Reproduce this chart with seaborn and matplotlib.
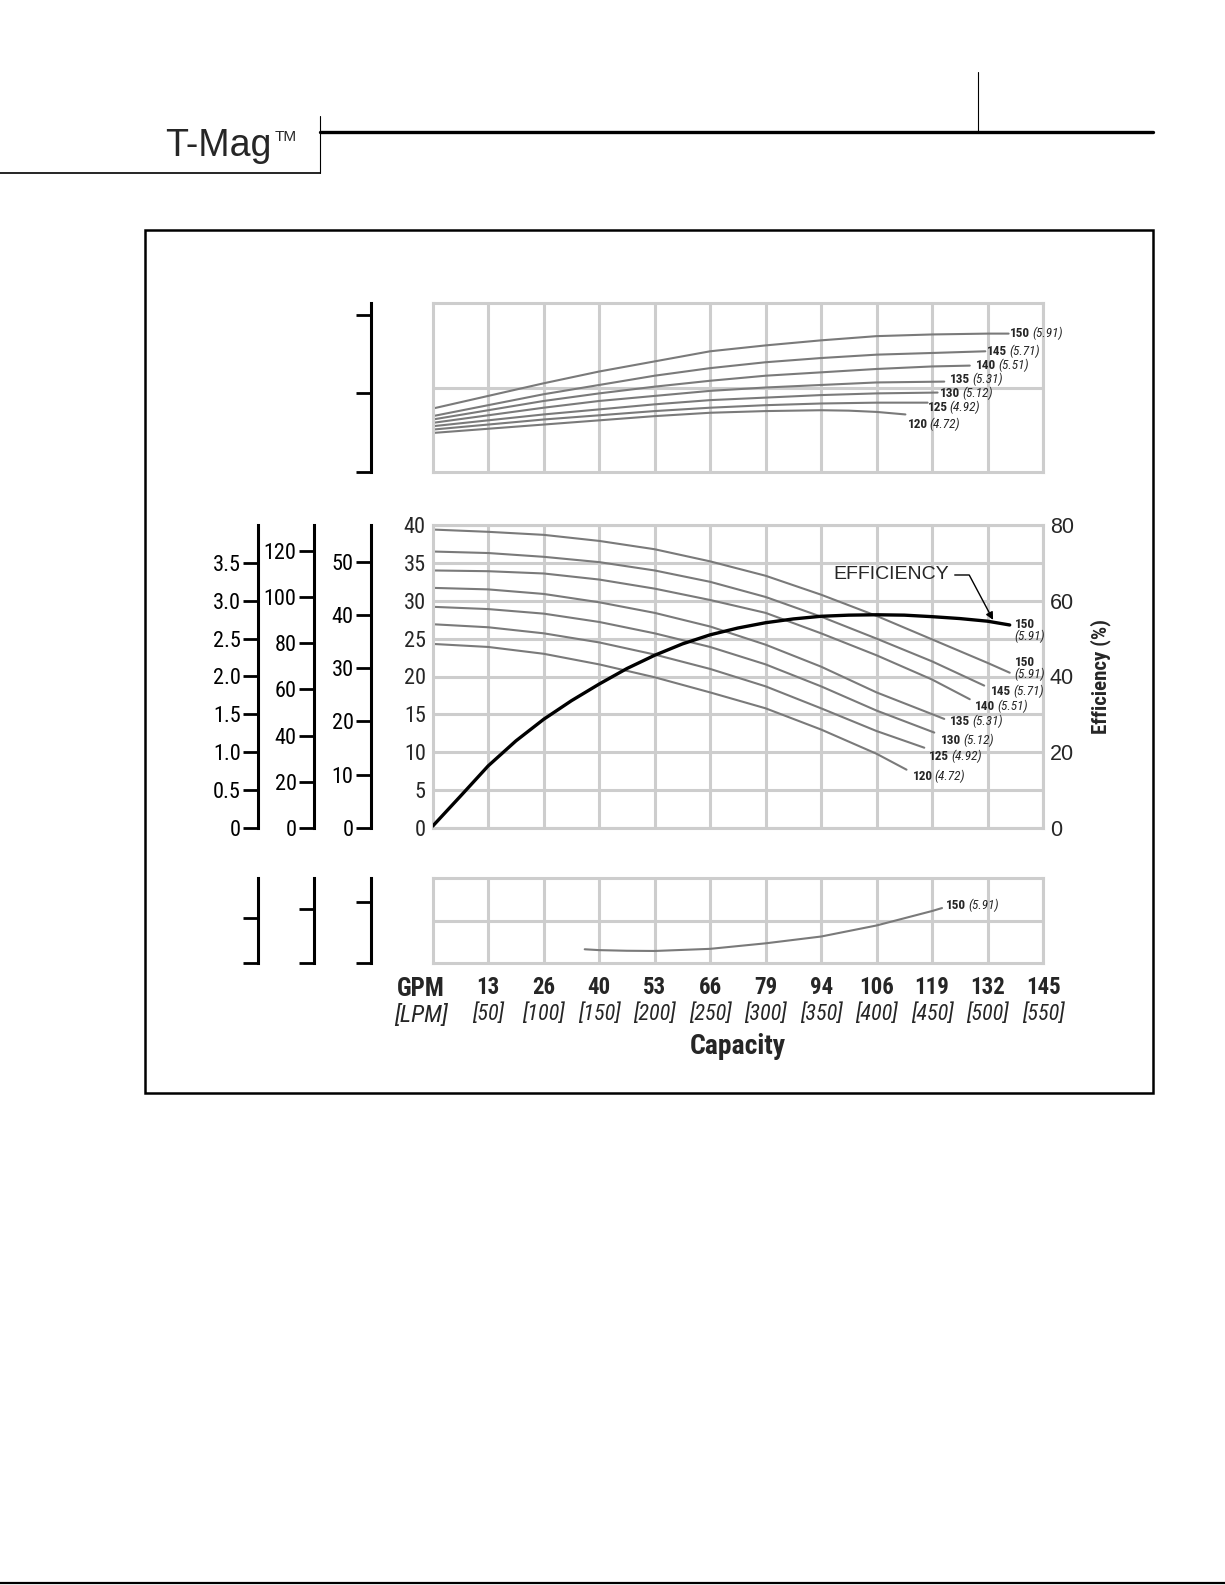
import numpy as np
import pandas as pd
import matplotlib.pyplot as plt
import seaborn as sns
from matplotlib import font_manager
from matplotlib.lines import Line2D
from matplotlib.patches import Rectangle

# capacity axis: grid every 50 LPM, labelled in GPM and [LPM]
lpm_ticks = [50, 100, 150, 200, 250, 300, 350, 400, 450, 500, 550]
gpm_labels = ["13", "26", "40", "53", "66", "79", "94", "106", "119", "132", "145"]
lpm_labels = ["[50]", "[100]", "[150]", "[200]", "[250]", "[300]",
              "[350]", "[400]", "[450]", "[500]", "[550]"]

# impeller sizes (mm) and (inch)
impellers = ["120", "125", "130", "135", "140", "145", "150"]
diameters = ["4.72", "4.92", "5.12", "5.31", "5.51", "5.71", "5.91"]

# head curves, metres (middle panel)
head_lpm_120 = [0, 50, 100, 150, 200, 250, 300, 350, 400, 427]
head_120 = [24.3, 23.9, 23.0, 21.6, 19.9, 17.9, 15.8, 13.0, 9.8, 7.7]
head_lpm_125 = [0, 50, 100, 150, 200, 250, 300, 350, 400, 443]
head_125 = [26.9, 26.5, 25.7, 24.5, 22.9, 21.0, 18.7, 15.8, 12.8, 10.6]
head_lpm_130 = [0, 50, 100, 150, 200, 250, 300, 350, 400, 452]
head_130 = [29.2, 28.9, 28.3, 27.2, 25.7, 23.9, 21.6, 18.7, 15.5, 12.6]
head_lpm_135 = [0, 50, 100, 150, 200, 250, 300, 350, 400, 461]
head_135 = [31.7, 31.5, 30.9, 29.8, 28.4, 26.6, 24.2, 21.3, 17.9, 14.4]
head_lpm_140 = [0, 50, 100, 150, 200, 250, 300, 350, 400, 450, 484]
head_140 = [34.0, 33.9, 33.6, 32.8, 31.6, 30.1, 28.4, 25.7, 22.8, 19.6, 17.0]
head_lpm_145 = [0, 50, 100, 150, 200, 250, 300, 350, 400, 450, 497]
head_145 = [36.5, 36.3, 35.8, 35.1, 34.0, 32.5, 30.5, 27.9, 25.0, 22.0, 18.8]
head_lpm_150 = [0, 50, 100, 150, 200, 250, 300, 350, 400, 450, 500, 520]
head_150 = [39.4, 39.1, 38.7, 37.9, 36.8, 35.2, 33.3, 30.8, 28.0, 24.9, 21.8, 20.5]

# power curves (top panel, grid rows = 1 unit)
pow_lpm_120 = [0, 50, 100, 150, 200, 250, 300, 350, 375, 400, 426]
pow_120 = [0.46, 0.51, 0.56, 0.61, 0.66, 0.70, 0.72, 0.73, 0.725, 0.71, 0.68]
pow_lpm_125 = [0, 50, 100, 150, 200, 250, 300, 350, 400, 446]
pow_125 = [0.50, 0.56, 0.62, 0.67, 0.72, 0.76, 0.79, 0.81, 0.82, 0.82]
pow_lpm_130 = [0, 50, 100, 150, 200, 250, 300, 350, 400, 455]
pow_130 = [0.54, 0.61, 0.68, 0.74, 0.80, 0.85, 0.88, 0.91, 0.93, 0.94]
pow_lpm_135 = [0, 50, 100, 150, 200, 250, 300, 350, 400, 461]
pow_135 = [0.58, 0.67, 0.76, 0.84, 0.90, 0.96, 1.00, 1.03, 1.06, 1.07]
pow_lpm_140 = [0, 50, 100, 150, 200, 250, 300, 350, 400, 450, 484]
pow_140 = [0.62, 0.73, 0.84, 0.93, 1.01, 1.08, 1.14, 1.18, 1.22, 1.25, 1.26]
pow_lpm_145 = [0, 50, 100, 150, 200, 250, 300, 350, 400, 450, 498]
pow_145 = [0.66, 0.79, 0.92, 1.03, 1.14, 1.23, 1.30, 1.35, 1.39, 1.41, 1.43]
pow_lpm_150 = [0, 50, 100, 150, 200, 250, 300, 350, 400, 450, 500, 519]
pow_150 = [0.75, 0.90, 1.05, 1.19, 1.31, 1.43, 1.50, 1.56, 1.61, 1.63, 1.64, 1.64]

# NPSH curve (bottom panel), 150 impeller only
npsh_lpm = [137, 150, 175, 200, 250, 300, 350, 400, 450, 459]
npsh_150 = [0.33, 0.31, 0.295, 0.29, 0.34, 0.47, 0.63, 0.89, 1.23, 1.30]

# efficiency curve (%)
eff_lpm = [0, 25, 50, 75, 100, 125, 150, 175, 200, 225, 250, 275, 300, 325, 350,
           375, 400, 425, 450, 475, 500, 520]
eff_pct = [0.5, 8.4, 16.4, 23.0, 28.7, 33.6, 38.0, 42.1, 45.6, 48.6, 51.0, 52.8,
           54.2, 55.2, 55.9, 56.2, 56.3, 56.2, 55.8, 55.3, 54.6, 53.6]

# head scales
head_ticks = [0, 5, 10, 15, 20, 25, 30, 35, 40]
eff_ticks = [0, 20, 40, 60, 80]
kg_ticks = [0, 0.5, 1.0, 1.5, 2.0, 2.5, 3.0, 3.5]
kg_labels = ["0", "0.5", "1.0", "1.5", "2.0", "2.5", "3.0", "3.5"]
ft_ticks = [0, 20, 40, 60, 80, 100, 120]
psi_ticks = [0, 10, 20, 30, 40, 50]

head_x = [head_lpm_120, head_lpm_125, head_lpm_130, head_lpm_135,
          head_lpm_140, head_lpm_145, head_lpm_150]
head_y = [head_120, head_125, head_130, head_135, head_140, head_145, head_150]
pow_x = [pow_lpm_120, pow_lpm_125, pow_lpm_130, pow_lpm_135,
         pow_lpm_140, pow_lpm_145, pow_lpm_150]
pow_y = [pow_120, pow_125, pow_130, pow_135, pow_140, pow_145, pow_150]


def curve_table(xs, ys):
    rows = []
    for imp, cx, cy in zip(impellers, xs, ys):
        rows += [(imp, a, b) for a, b in zip(cx, cy)]
    return pd.DataFrame(rows, columns=["impeller", "lpm", "value"])


head_df = curve_table(head_x, head_y)
pow_df = curve_table(pow_x, pow_y)

sns.set_style("white")
# the original uses a condensed grotesque; take the narrowest one installed
installed = {f.name for f in font_manager.fontManager.ttflist}
narrow = next((n for n in ["Liberation Sans Narrow", "DejaVu Sans Condensed",
                           "Roboto Condensed", "Liberation Sans"] if n in installed),
              "DejaVu Sans")
plt.rcParams["font.family"] = [narrow, "DejaVu Sans"]
WIDE = ["Liberation Sans", "DejaVu Sans"]
GRID = "#cdcdcd"
CURVE = "#7a7a7a"

W, H = 1225, 1585
fig = plt.figure(figsize=(W / 100, H / 100), dpi=100)


def px_box(x0, y0, x1, y1):
    return [x0 / W, 1 - y1 / H, (x1 - x0) / W, (y1 - y0) / H]


ax_top = fig.add_axes(px_box(432.7, 303.3, 1043, 471.7))
ax_main = fig.add_axes(px_box(432.7, 525, 1043, 828))
ax_bot = fig.add_axes(px_box(432.7, 878.3, 1043, 963.3))


def grid_panel(ax, ymax, yticks):
    ax.set_xlim(0, 550)
    ax.set_ylim(0, ymax)
    ax.set_xticks(lpm_ticks)
    ax.set_yticks(yticks)
    ax.grid(True, color=GRID, lw=2.2)
    ax.set_axisbelow(True)
    for s in ax.spines.values():
        s.set_color(GRID)
        s.set_linewidth(2.2)
    ax.tick_params(length=0)
    ax.set_xlabel("")
    ax.set_ylabel("")


def side_scale(host, offset_px, top, ticks, labels=None):
    tw = host.twinx()
    tw.yaxis.tick_left()
    for side in ("top", "right", "bottom"):
        tw.spines[side].set_visible(False)
    sp = tw.spines["left"]
    sp.set_visible(True)
    sp.set_position(("outward", offset_px * 0.72))
    sp.set_color("black")
    sp.set_linewidth(2.2)
    tw.set_ylim(0, top)
    tw.set_yticks(ticks)
    tw.set_yticklabels(labels if labels is not None else [])
    tw.tick_params(axis="y", direction="out", length=11, width=2.0, pad=1.5,
                   labelsize=16, colors="black")
    tw.grid(False)
    return tw


def tag(ax, x, y, num, dia, dx, dy, stacked=False, size=9.5):
    t = ax.annotate(num, xy=(x, y), xytext=(dx, dy), textcoords="offset points",
                    ha="left", va="center", fontsize=size, fontweight="bold")
    if stacked:
        ax.annotate(f"({dia})", xy=(0, 0), xycoords=t, xytext=(0, 1),
                    textcoords="offset points", ha="left", va="top",
                    fontsize=size, fontstyle="italic")
    else:
        ax.annotate(f"({dia})", xy=(1, 0), xycoords=t, xytext=(1.5, 0),
                    textcoords="offset points", ha="left", va="bottom",
                    fontsize=size, fontstyle="italic")


# ---- top panel: power
sns.lineplot(data=pow_df, x="lpm", y="value", units="impeller", estimator=None,
             sort=False, color=CURVE, lw=1.5, ax=ax_top)
grid_panel(ax_top, 2, [1])
ax_top.set_xticklabels([])
ax_top.set_yticklabels([])
side_scale(ax_top, 61.7, 2.146, [0, 1, 2])
top_offsets = {"120": (1.5, -7.4), "125": (0, -3.6), "130": (2, -0.7), "135": (4, 1.7),
               "140": (4.5, 0), "145": (1.5, 0), "150": (1, 0)}
for imp, dia, cx, cy in zip(impellers, diameters, pow_x, pow_y):
    tag(ax_top, cx[-1], cy[-1], imp, dia, *top_offsets[imp])

# ---- middle panel: head + efficiency
sns.lineplot(data=head_df, x="lpm", y="value", units="impeller", estimator=None,
             sort=False, color=CURVE, lw=1.5, ax=ax_main)
grid_panel(ax_main, 40, head_ticks)
ax_main.set_xticklabels([])
ax_main.tick_params(axis="y", labelsize=16, pad=5)

side_scale(ax_main, 432.7 - 258, 4.0, kg_ticks, kg_labels)
side_scale(ax_main, 432.7 - 314, 131.2, ft_ticks, [str(v) for v in ft_ticks])
side_scale(ax_main, 432.7 - 371, 56.9, psi_ticks, [str(v) for v in psi_ticks])

main_offsets = {"120": (4.3, -4.8), "125": (3.6, -6), "130": (4.8, -5.5),
                "135": (4.3, -2), "140": (4, -5.5), "145": (5, -4.3), "150": (3.6, 7.7)}
for imp, dia, cx, cy in zip(impellers, diameters, head_x, head_y):
    tag(ax_main, cx[-1], cy[-1], imp, dia, *main_offsets[imp], stacked=(imp == "150"))

ax_eff = ax_main.twinx()
sns.lineplot(x=eff_lpm, y=eff_pct, color="black", lw=2.4, ax=ax_eff)
ax_eff.set_ylim(0, 80)
ax_eff.set_yticks(eff_ticks)
ax_eff.set_yticklabels([str(v) for v in eff_ticks], family=WIDE)
ax_eff.tick_params(axis="y", length=0, pad=5, labelsize=15.5)
for s in ax_eff.spines.values():
    s.set_visible(False)
ax_eff.grid(False)
ax_eff.set_ylabel("Efficiency (%)", fontsize=15, fontweight="bold", labelpad=12)
tag(ax_eff, eff_lpm[-1], eff_pct[-1], impellers[-1], diameters[-1], 3.6, 0, stacked=True)

tip_x = 505
tip_y = np.interp(tip_x, eff_lpm, eff_pct) + 0.6
ax_eff.annotate("EFFICIENCY", xy=(tip_x, tip_y), xytext=(0.656, 0.835),
                textcoords="axes fraction", ha="left", va="center",
                fontsize=14, family=WIDE,
                arrowprops=dict(arrowstyle="-|>", color="black", lw=1.0,
                                mutation_scale=11, shrinkA=2, shrinkB=0,
                                relpos=(1.0, 0.5),
                                connectionstyle="angle,angleA=0,angleB=118,rad=0"))

# ---- bottom panel: NPSH
sns.lineplot(x=npsh_lpm, y=npsh_150, color=CURVE, lw=1.5, ax=ax_bot)
grid_panel(ax_bot, 2, [1])
ax_bot.set_yticklabels([])
ax_bot.set_xticklabels(gpm_labels, fontsize=16.5, fontweight="bold")
ax_bot.tick_params(axis="x", pad=9)
side_scale(ax_bot, 432.7 - 258, 1.89, [0, 1])
side_scale(ax_bot, 432.7 - 314, 1.565, [0, 1])
side_scale(ax_bot, 432.7 - 371, 1.38, [0, 1])
tag(ax_bot, npsh_lpm[-1], npsh_150[-1], impellers[-1], diameters[-1], 3, 1.5)

xt = ax_bot.get_xaxis_transform()
for x, lab in zip(lpm_ticks, lpm_labels):
    ax_bot.text(x, -0.60, lab, transform=xt, ha="center", va="center",
                fontsize=16, fontstyle="italic")
ax_bot.text(-0.02, -0.30, "GPM", transform=ax_bot.transAxes, ha="center",
            va="center", fontsize=18, fontweight="bold")
ax_bot.text(-0.02, -0.61, "[LPM]", transform=ax_bot.transAxes, ha="center",
            va="center", fontsize=17.5, fontstyle="italic")
ax_bot.text(0.5, -0.98, "Capacity", transform=ax_bot.transAxes, ha="center",
            va="center", fontsize=20, fontweight="bold")

# ---- page furniture
fig.add_artist(Rectangle((144.6 / W, 1 - 1093 / H), (1153 - 144.6) / W, (1093 - 230) / H,
                         transform=fig.transFigure, fill=False, ec="black", lw=1.8))
page_lines = [
    ((320, 1153), (131.7, 131.7), 2.4),
    ((978, 978), (71.7, 131.7), 0.8),
    ((320, 320), (116, 172.7), 0.8),
    ((0, 320), (172.7, 172.7), 1.2),
    ((0, W), (1583, 1583), 1.6),
]
for xs, ys, lw in page_lines:
    fig.add_artist(Line2D([v / W for v in xs], [1 - v / H for v in ys],
                          transform=fig.transFigure, color="black", lw=lw))
fig.text(272 / W, 1 - 146 / H, "T-Mag", ha="right", va="center", fontsize=27,
         family=WIDE, fontweight="light")
fig.text(275 / W, 1 - 137 / H, "TM", ha="left", va="center", fontsize=11, family=WIDE)

fig.savefig("out.png", dpi=100)
